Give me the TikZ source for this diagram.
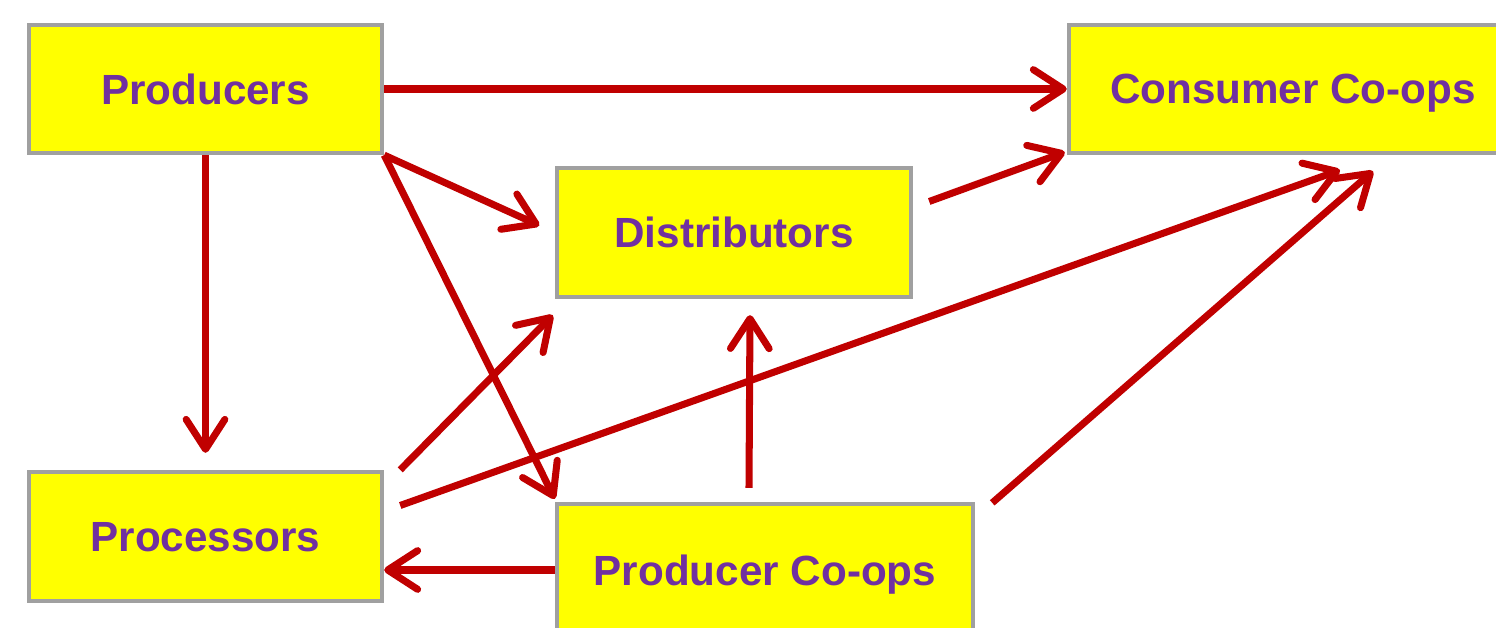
\documentclass[tikz,border=0pt]{standalone}
\usepackage{fontspec}
\setmainfont{Liberation Sans}
\usetikzlibrary{arrows.meta}
\usetikzlibrary{calc}

\definecolor{boxyellow}{HTML}{FFFF00}
\definecolor{boxgray}{HTML}{A0A0A0}
\definecolor{boxpurple}{HTML}{7030A0}
\definecolor{linkred}{HTML}{C00000}

\begin{document}
\begin{tikzpicture}[x=0.01cm, y=-0.01cm,
	box/.style={draw=boxgray, line width=1.2pt, fill=boxyellow, text=boxpurple,
		font=\fontsize{12}{14}\selectfont\bfseries, inner sep=0pt, text depth=0pt},
	link/.style={draw=linkred, line width=2pt,
		-{Straight Barb[length=8.5pt, width=11pt, round]}}]
			\clip (0,0) rectangle (1496,628);
			\useasboundingbox (0,0) rectangle (1496,628);
			% boxes
			\node[box, minimum width=3.53cm, minimum height=1.28cm] (prod)  at ( 205.5, 89)   {Producers};
			\node[box, minimum width=4.48cm, minimum height=1.28cm] (cons)  at (1293,   89)   {Consumer Co-ops};
			\node[box, minimum width=3.54cm, minimum height=1.29cm] (dist)  at ( 734,  232.5) {Distributors};
			\node[box, minimum width=3.53cm, minimum height=1.29cm] (proc)  at ( 205.5,536.5) {Processors};
			\node[box, minimum width=4.16cm, minimum height=1.32cm] (pcoop) at ( 765,  570)   {Producer Co-ops};
			% links
			\draw[link] (prod.east) -- (cons.west);
			\draw[link, shorten >=0.17cm] (prod.south east) -- (dist.west);
			\draw[link] (prod.south east) -- ($(pcoop.north west)+(0,-3)$);
			\draw[link, shorten >=0.17cm] (prod.south) -- (proc.north);
			\draw[link] ($(dist.east)+(16,-31)$) -- ($(cons.south west)+(-2,-3)$);
			\draw[link] ($(proc.north east)+(16,0)$) -- ($(dist.south west)+(-2,16)$);
			\draw[link] ($(proc.east)+(16,-31)$) -- ($(cons.south)+(47,15)$);
			\draw[link] ($(pcoop.north)+(-16,-14)$) -- ($(dist.south)+(16,16)$);
			\draw[link] ($(pcoop.north east)+(17,1)$) -- ($(cons.south)+(80,16)$);
			\draw[link] (pcoop.west) -- (pcoop.west -| proc.east);
		\end{tikzpicture}
\end{document}
